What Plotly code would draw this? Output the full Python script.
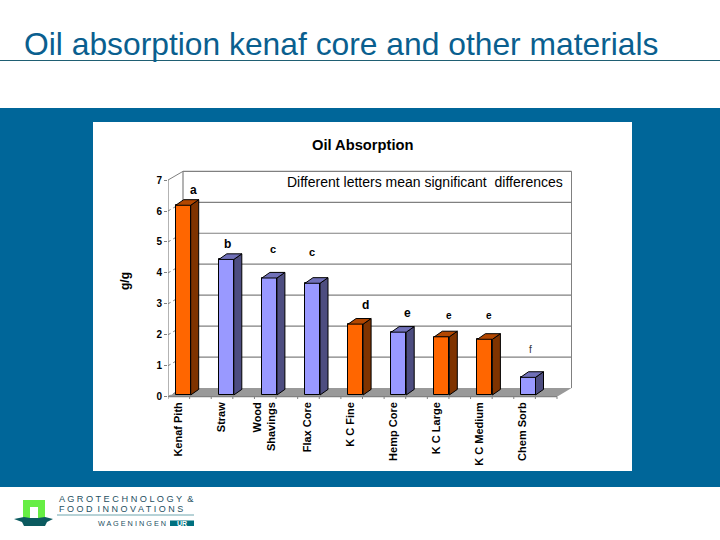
import plotly.graph_objects as go

# ---- data ----
categories = ["Kenaf Pith", "Straw", "Wood<br>Shavings", "Flax Core", "K C Fine",
              "Hemp Core", "K C Large", "K C Medium", "Chem Sorb"]
absorption = [6.13, 4.38, 3.78, 3.61, 2.29, 2.03, 1.88, 1.80, 0.57]
is_kenaf = [True, False, False, False, True, False, True, True, False]
letters = ["a", "b", "c", "c", "d", "e", "e", "e", "f"]
y_ticks = [0, 1, 2, 3, 4, 5, 6, 7]

# ---- geometry helpers (pixel layout of the slide) ----
W, H = 720, 540
PX_X0, PX_SP = 183.2, 43.1      # px of category 0 centre, px per category
PX_Y0, PX_U = 395.0, 30.95      # px of value 0 at bar base, px per unit
L, R = 168.0, 572.0             # x axis domain
B, T = 399.0, 165.0             # y axis domain


def X(px):
    return (px - PX_X0) / PX_SP


def Y(px):
    return (PX_Y0 - px) / PX_U


def fx(px):
    return px / W


def fy(px):
    return 1 - px / H


BAR_W = 15 / PX_SP
DX, DY = 8 / PX_SP, 5.6 / PX_U
FRONT = Y(396.7)                # y-offset of the front floor edge
BACK = Y(388.0)                 # y-offset of the back wall base
LEFT_BACK, RIGHT_FRONT, RIGHT_BACK = 183.0, 557.0, 571.6
ORANGE = ("#FF6600", "#7F3300", "#B34700")
BLUE = ("#9999FF", "#4D4D80", "#7070B8")
GREY = "#808080"
NAVY = "#0A5F8F"
BAND = "#006699"
FONT = "Liberation Sans"

shapes = []


def rect(x0, y0, x1, y1, color):
    shapes.append(dict(type="rect", xref="paper", yref="paper", layer="below",
                       x0=fx(x0), x1=fx(x1), y0=fy(y0), y1=fy(y1),
                       fillcolor=color, line_width=0))


def pline(x0, y0, x1, y1, color, w=1):
    shapes.append(dict(type="line", xref="paper", yref="paper", layer="below",
                       x0=fx(x0), x1=fx(x1), y0=fy(y0), y1=fy(y1),
                       line=dict(color=color, width=w)))


def poly(points, color, lcolor=None, lw=0, xref="x", yref="y"):
    d = "M " + " L ".join(f"{a},{b}" for a, b in points) + " Z"
    shapes.append(dict(type="path", xref=xref, yref=yref, layer="below", path=d,
                       fillcolor=color,
                       line=dict(color=lcolor or color, width=lw)))


def dline(x0, y0, x1, y1, color, w=1.2, dash="solid"):
    shapes.append(dict(type="line", xref="x", yref="y", layer="below",
                       x0=x0, x1=x1, y0=y0, y1=y1,
                       line=dict(color=color, width=w, dash=dash)))


# slide furniture
pline(0, 60.5, 720, 60.5, "#1F5F73", 1)
rect(0, 108, 720, 487, BAND)
rect(93, 122, 632, 471, "#FFFFFF")

# 3-D frame of the chart
top_v = y_ticks[-1]
poly([(X(LEFT_BACK), BACK), (X(RIGHT_BACK), BACK),
      (X(RIGHT_BACK), BACK + top_v), (X(LEFT_BACK), BACK + top_v)], "#FFFFFF")
poly([(X(L), FRONT), (X(RIGHT_FRONT), FRONT), (X(RIGHT_BACK), BACK), (X(LEFT_BACK), BACK)], "#999999")
dline(X(L), FRONT, X(L), FRONT + top_v, GREY)
dline(X(LEFT_BACK), BACK, X(LEFT_BACK), BACK + top_v, GREY)
dline(X(RIGHT_BACK), BACK, X(RIGHT_BACK), BACK + top_v, GREY)
dline(X(L), FRONT, X(RIGHT_FRONT), FRONT, GREY)
for v in y_ticks:
    if v > 0:
        dline(X(LEFT_BACK), BACK + v, X(RIGHT_BACK), BACK + v, GREY)
    dline(X(L), FRONT + v, X(LEFT_BACK), BACK + v, GREY, 1, "dot" if v < top_v else "solid")

fig = go.Figure()

# side and top faces sit above the bars, as filled scatter traces
xs = list(range(len(categories)))
for i, v, k in zip(xs, absorption, is_kenaf):
    c = ORANGE if k else BLUE
    xr = i + BAR_W / 2
    xl = i - BAR_W / 2
    fig.add_trace(go.Scatter(x=[xr, xr + DX, xr + DX, xr, xr], y=[0, DY, v + DY, v, 0],
                             mode="lines", fill="toself", fillcolor=c[1],
                             line=dict(color="#000000", width=1), hoverinfo="skip", showlegend=False))
    fig.add_trace(go.Scatter(x=[xl, xr, xr + DX, xl + DX, xl], y=[v, v, v + DY, v + DY, v],
                             mode="lines", fill="toself", fillcolor=c[2],
                             line=dict(color="#000000", width=1), hoverinfo="skip", showlegend=False))

fig.add_trace(go.Bar(x=xs, y=absorption, width=BAR_W,
                     marker=dict(color=[(ORANGE if k else BLUE)[0] for k in is_kenaf],
                                 line=dict(color="#000000", width=1)),
                     showlegend=False))

# small ticks under the front floor edge
tick_x, tick_y = [], []
n_half = 2 * len(categories)
for j in range(n_half + 1):
    p = X(L + (RIGHT_FRONT - L) * j / n_half)
    tick_x += [p, p, None]
    tick_y += [FRONT, FRONT - 4.5 / PX_U, None]
fig.add_trace(go.Scatter(x=tick_x, y=tick_y, mode="lines", line=dict(color=GREY, width=1),
                         hoverinfo="skip", showlegend=False))

annotations = []


def txt(x, y, s, size, color="#000000", bold=False, angle=0, anchor="center"):
    annotations.append(dict(x=fx(x), y=fy(y), xref="paper", yref="paper", text=f"<b>{s}</b>" if bold else s,
                            showarrow=False, xanchor=anchor, yanchor="middle", textangle=angle,
                            font=dict(family=FONT, size=size, color=color)))


txt(22, 44, "Oil absorption kenaf core and other materials", 31.8, NAVY, anchor="left")
txt(362.5, 145, "Oil Absorption", 14.7, bold=True)
txt(424.5, 182, "Different letters mean significant  differences", 14)
txt(125, 281, "g/g", 12, bold=True, angle=-90)

letter_px = [(193, 190, 12), (227, 244, 12), (273, 249, 11), (312, 252, 11), (365, 305, 12),
             (407, 313, 12), (449, 315, 10), (489, 315, 10), (530, 349, 10)]
for s, (px, py, sz) in zip(letters, letter_px):
    txt(px, py, s, sz, bold=s != "f", color="#000000" if s != "f" else "#333333")

# logo
poly([(fx(23), fy(500)), (fx(45), fy(500)), (fx(45), fy(518)), (fx(38), fy(518)), (fx(38), fy(507)),
      (fx(30), fy(507)), (fx(30), fy(518)), (fx(23), fy(518))], "#66EE44", xref="paper", yref="paper")
poly([(fx(14), fy(519)), (fx(24), fy(517)), (fx(30), fy(518)), (fx(38), fy(518)), (fx(45), fy(517)),
      (fx(53), fy(519)), (fx(47), fy(522)), (fx(45), fy(526)), (fx(24), fy(526)), (fx(22), fy(522))],
     "#0B5A5F", xref="paper", yref="paper")
pline(57, 515, 194, 515, "#6FA5AE", 1)
rect(170, 520.5, 194, 526, "#00707F")
txt(57, 499, "A G R O T E C H N O L O G Y  &", 9.2, "#24505F", anchor="left")
txt(57, 509, "F O O D  I N N O V A T I O N S", 9, "#24505F", anchor="left")
txt(96, 523, "W A G E N I N G E N", 7.3, "#24505F", anchor="left")
txt(182, 523.3, "UR", 7, "#FFFFFF", bold=True)

fig.update_layout(
    width=W, height=H, autosize=False,
    margin=dict(l=0, r=0, t=0, b=0),
    paper_bgcolor="#FFFFFF", plot_bgcolor="rgba(0,0,0,0)",
    shapes=shapes, annotations=annotations, showlegend=False, bargap=0,
    xaxis=dict(domain=[fx(L), fx(R)], range=[X(L), X(R)], showgrid=False, zeroline=False, automargin=False,
               showline=False, ticks="", tickmode="array", tickvals=[i - 0.12 for i in xs],
               ticktext=[f"<b>{c.replace('<br>', '</b><br><b>')}</b>" for c in categories], tickangle=-90,
               tickfont=dict(family=FONT, size=11, color="#000000"), fixedrange=True),
    yaxis=dict(domain=[fy(B), fy(T)], range=[Y(B), Y(T)], showgrid=False, zeroline=False, automargin=False,
               showline=False, ticks="outside", ticklen=3, tickcolor=GREY, tickmode="array",
               tickvals=[FRONT + v for v in y_ticks], ticktext=[f"<b>{v}</b>" for v in y_ticks],
               tickfont=dict(family=FONT, size=10, color="#000000"), fixedrange=True),
)

fig.write_html("out.html", config={"displayModeBar": False},
               post_script="document.documentElement.style.cssText='margin:0;padding:0;height:540px;overflow:hidden';"
                           "document.body.style.cssText='margin:0;padding:0;height:540px;overflow:hidden';")
